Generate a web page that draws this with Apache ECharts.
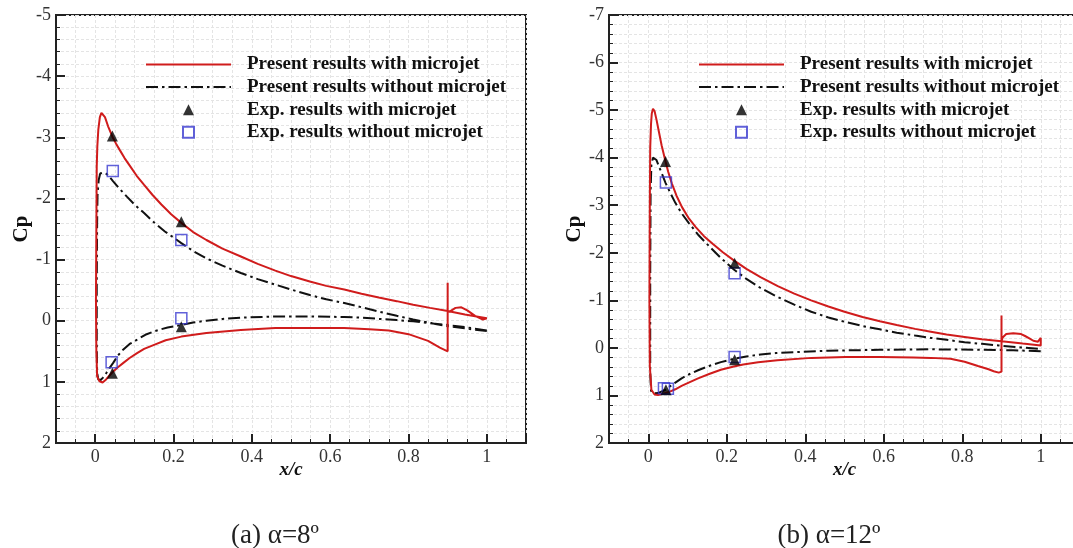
<!DOCTYPE html>
<html><head><meta charset="utf-8">
<script src="https://cdn.jsdelivr.net/npm/echarts@6/dist/echarts.min.js"></script>
<style>html,body{margin:0;padding:0;background:#fff}#c{width:1073px;height:548px}</style>
</head><body><div id="c"></div>
<script>
// ---- data (x/c, Cp) ----
const NAMES = ['Present results with microjet','Present results without microjet','Exp. results with microjet','Exp. results without microjet'];
const captions = ['(a) \u03b1=8\u00ba', '(b) \u03b1=12\u00ba'];
const xTicks = [0, 0.2, 0.4, 0.6, 0.8, 1];

// alpha = 8 deg
const cfdJet8 = [[0.900,-0.62],[0.900,0.50],[0.895,0.51],[0.88,0.44],[0.85,0.33],[0.8,0.22],[0.75,0.16],[0.7,0.14],[0.636,0.12],[0.548,0.12],[0.46,0.12],[0.372,0.15],[0.284,0.20],[0.22,0.26],[0.18,0.32],[0.152,0.39],[0.125,0.46],[0.107,0.53],[0.088,0.61],[0.072,0.69],[0.058,0.76],[0.046,0.83],[0.036,0.90],[0.028,0.96],[0.019,1.01],[0.011,0.99],[0.005,0.91],[0.003,0.47],[0.002,-0.34],[0.003,-1.43],[0.004,-2.52],[0.0055,-2.85],[0.008,-3.12],[0.012,-3.33],[0.016,-3.40],[0.020,-3.39],[0.025,-3.33],[0.033,-3.18],[0.044,-3.01],[0.053,-2.90],[0.063,-2.79],[0.075,-2.66],[0.09,-2.52],[0.106,-2.37],[0.125,-2.22],[0.146,-2.06],[0.169,-1.90],[0.194,-1.74],[0.22,-1.60],[0.25,-1.45],[0.284,-1.32],[0.325,-1.18],[0.372,-1.05],[0.415,-0.93],[0.46,-0.82],[0.5,-0.73],[0.548,-0.64],[0.59,-0.57],[0.636,-0.51],[0.68,-0.44],[0.724,-0.38],[0.77,-0.32],[0.812,-0.26],[0.855,-0.21],[0.9,-0.16],[0.944,-0.10],[1.0,-0.04],[0.99,-0.02],[0.97,-0.08],[0.95,-0.17],[0.935,-0.22],[0.92,-0.21],[0.905,-0.15],[0.9,-0.14]];
const cfdNoJet8 = [[1.0,0.16],[0.95,0.11],[0.9,0.07],[0.855,0.04],[0.812,0.01],[0.77,-0.01],[0.724,-0.03],[0.68,-0.05],[0.636,-0.06],[0.548,-0.07],[0.46,-0.07],[0.372,-0.05],[0.325,-0.03],[0.284,0.0],[0.25,0.03],[0.22,0.07],[0.185,0.11],[0.152,0.17],[0.128,0.23],[0.107,0.31],[0.088,0.38],[0.072,0.47],[0.058,0.57],[0.046,0.69],[0.036,0.78],[0.028,0.86],[0.02,0.93],[0.014,0.97],[0.008,0.96],[0.005,0.85],[0.004,0.4],[0.004,-0.6],[0.005,-1.6],[0.006,-2.05],[0.009,-2.3],[0.013,-2.41],[0.018,-2.44],[0.025,-2.42],[0.033,-2.38],[0.046,-2.28],[0.062,-2.16],[0.081,-2.03],[0.102,-1.89],[0.125,-1.76],[0.15,-1.61],[0.178,-1.46],[0.22,-1.27],[0.25,-1.14],[0.284,-1.02],[0.325,-0.90],[0.372,-0.78],[0.415,-0.68],[0.46,-0.59],[0.5,-0.51],[0.548,-0.42],[0.59,-0.35],[0.636,-0.29],[0.68,-0.22],[0.724,-0.15],[0.77,-0.08],[0.812,-0.02],[0.865,0.05],[0.9,0.09],[0.95,0.13],[1.0,0.17]];
const expJet8 = [[0.044,-3.02],[0.22,-1.62],[0.22,0.10],[0.044,0.86]];
const expNoJet8 = [[0.045,-2.45],[0.22,-1.32],[0.22,-0.04],[0.042,0.68]];

// alpha = 12 deg
const cfdJet12 = [[0.9,-0.68],[0.9,0.50],[0.893,0.52],[0.88,0.49],[0.867,0.45],[0.84,0.38],[0.806,0.29],[0.77,0.23],[0.72,0.21],[0.676,0.20],[0.589,0.19],[0.503,0.19],[0.416,0.21],[0.329,0.26],[0.28,0.30],[0.242,0.35],[0.218,0.39],[0.185,0.46],[0.155,0.55],[0.127,0.64],[0.103,0.73],[0.085,0.80],[0.069,0.87],[0.055,0.92],[0.043,0.95],[0.025,0.99],[0.016,0.98],[0.008,0.88],[0.004,0.38],[0.003,-1.0],[0.004,-3.0],[0.005,-4.2],[0.007,-4.7],[0.009,-4.93],[0.012,-5.03],[0.016,-4.98],[0.021,-4.80],[0.027,-4.55],[0.034,-4.26],[0.044,-3.92],[0.051,-3.70],[0.06,-3.46],[0.072,-3.20],[0.086,-2.96],[0.102,-2.74],[0.121,-2.54],[0.142,-2.35],[0.164,-2.19],[0.19,-2.01],[0.218,-1.84],[0.25,-1.66],[0.286,-1.49],[0.33,-1.30],[0.372,-1.14],[0.415,-1.00],[0.459,-0.87],[0.5,-0.76],[0.546,-0.65],[0.59,-0.56],[0.633,-0.48],[0.68,-0.40],[0.72,-0.34],[0.76,-0.28],[0.806,-0.23],[0.85,-0.18],[0.9,-0.14],[0.954,-0.09],[1.0,-0.05],[1.0,-0.21],[0.993,-0.13],[0.981,-0.15],[0.971,-0.20],[0.96,-0.25],[0.95,-0.29],[0.93,-0.31],[0.912,-0.29],[0.903,-0.22],[0.9,-0.14]];
const cfdNoJet12 = [[1.0,0.07],[0.93,0.05],[0.85,0.04],[0.72,0.03],[0.589,0.04],[0.459,0.06],[0.372,0.09],[0.325,0.11],[0.286,0.14],[0.25,0.18],[0.218,0.23],[0.185,0.30],[0.155,0.38],[0.127,0.47],[0.103,0.56],[0.085,0.64],[0.069,0.73],[0.055,0.81],[0.044,0.88],[0.025,0.95],[0.012,0.96],[0.007,0.9],[0.005,0.5],[0.005,-1.5],[0.006,-3.3],[0.008,-3.85],[0.012,-4.0],[0.017,-4.03],[0.021,-3.95],[0.027,-3.82],[0.034,-3.68],[0.044,-3.47],[0.055,-3.28],[0.069,-3.05],[0.085,-2.83],[0.103,-2.63],[0.127,-2.38],[0.155,-2.14],[0.185,-1.89],[0.218,-1.65],[0.25,-1.45],[0.286,-1.26],[0.33,-1.07],[0.372,-0.91],[0.415,-0.76],[0.459,-0.64],[0.5,-0.55],[0.546,-0.46],[0.59,-0.39],[0.633,-0.32],[0.68,-0.26],[0.72,-0.21],[0.76,-0.17],[0.806,-0.12],[0.85,-0.085],[0.893,-0.05],[0.95,-0.01],[1.0,0.02]];
const expJet12 = [[0.044,-3.92],[0.22,-1.78],[0.22,0.25],[0.045,0.88]];
const expNoJet12 = [[0.045,-3.48],[0.22,-1.57],[0.22,0.19],[0.04,0.85],[0.05,0.86]];

// ---- chart ----
const SERIF = 'Liberation Serif, Times New Roman, serif';
const RED = '#d01c1c';
const BLUE = '#3a3ad0';
const DASHDOT = [12, 4, 2.5, 4];
const gridLine = {show:true, lineStyle:{color:'#e4e4e4', width:1, type:[3,2]}};

function xAxis(i){
  return {type:'value', gridIndex:i, min:-0.1, max:1.1, splitNumber:6,
    name:'x/c', nameLocation:'middle', nameGap:18, nameMoveOverlap:false,
    nameTextStyle:{fontFamily:SERIF, fontSize:19, fontWeight:'bold', fontStyle:'italic', color:'#111'},
    axisLine:{show:true, onZero:false, lineStyle:{color:'#222', width:2}},
    axisTick:{show:true, inside:true, length:9, lineStyle:{color:'#222', width:2}},
    minorTick:{show:true, splitNumber:4, length:4, lineStyle:{color:'#222', width:1}},
    axisLabel:{showMinLabel:false, showMaxLabel:false, margin:5, fontFamily:SERIF, fontSize:18, color:'#333',
      formatter: v => xTicks.some(t => Math.abs(t - v) < 1e-6) ? String(+v.toFixed(2)) : ''},
    splitLine:gridLine, minorSplitLine:gridLine};
}
function yAxis(i, min){
  return {type:'value', gridIndex:i, min:min, max:2, interval:1, inverse:true,
    name:'Cp', nameLocation:'middle', nameGap:24,
    nameTextStyle:{fontFamily:SERIF, fontSize:21, fontWeight:'bold', color:'#111'},
    axisLine:{show:true, onZero:false, lineStyle:{color:'#222', width:2}},
    axisTick:{show:true, inside:true, length:9, lineStyle:{color:'#222', width:2}},
    minorTick:{show:true, splitNumber:5, length:4, lineStyle:{color:'#222', width:1}},
    axisLabel:{margin:5, fontFamily:SERIF, fontSize:18, color:'#333'},
    splitLine:gridLine, minorSplitLine:gridLine};
}
function seriesFor(i, jet, noJet, eJet, eNoJet){
  return [
    {name:NAMES[1], type:'line', xAxisIndex:i, yAxisIndex:i, data:noJet, symbol:'none', showSymbol:false,
      lineStyle:{color:'#111', width:2, type:DASHDOT}, itemStyle:{color:'#111'}, z:2, silent:true},
    {name:NAMES[0], type:'line', xAxisIndex:i, yAxisIndex:i, data:jet, symbol:'none', showSymbol:false,
      lineStyle:{color:RED, width:2}, itemStyle:{color:RED}, z:3, silent:true},
    {name:NAMES[3], type:'scatter', xAxisIndex:i, yAxisIndex:i, data:eNoJet, symbol:'rect', symbolSize:11,
      itemStyle:{color:'rgba(255,255,255,0)', borderColor:BLUE, borderWidth:1.5}, z:4, silent:true},
    {name:NAMES[2], type:'scatter', xAxisIndex:i, yAxisIndex:i, data:eJet, symbol:'triangle', symbolSize:11,
      itemStyle:{color:'#000'}, z:5, silent:true}
  ];
}
const hideSym = {color:'rgba(0,0,0,0)', borderColor:'rgba(0,0,0,0)', borderWidth:0};
function legend(left){
  return {left:left, top:55, orient:'vertical', padding:0, itemWidth:85, itemHeight:11, itemGap:3.6,
    selectedMode:false, symbolKeepAspect:true,
    data:[
      {name:NAMES[0], itemStyle:hideSym},
      {name:NAMES[1], itemStyle:hideSym},
      {name:NAMES[2], icon:'path://M5,0L10,10L0,10Z'},
      {name:NAMES[3], icon:'path://M0,0L10,0L10,10L0,10Z'}
    ],
    textStyle:{fontFamily:SERIF, fontWeight:'bold', fontSize:19, lineHeight:16, color:'#111', padding:[0,0,0,11]}};
}

const chart = echarts.init(document.getElementById('c'), null, {renderer:'canvas'});
chart.setOption({
  animation:false,
  backgroundColor:'#fff',
  grid:[
    {left:56, top:15, width:470, height:428, show:true, borderColor:'#222', borderWidth:2, containLabel:false, outerBoundsMode:'none'},
    {left:609, top:15, width:471, height:428, show:true, borderColor:'#222', borderWidth:2, containLabel:false, outerBoundsMode:'none'}
  ],
  xAxis:[xAxis(0), xAxis(1)],
  yAxis:[yAxis(0,-5), yAxis(1,-7)],
  legend:[legend(145), legend(698)],
  series:[].concat(seriesFor(0, cfdJet8, cfdNoJet8, expJet8, expNoJet8),
                   seriesFor(1, cfdJet12, cfdNoJet12, expJet12, expNoJet12)),
  graphic:[
    {type:'text', x:275, y:536, style:{text:captions[0], align:'center', verticalAlign:'middle', font:'27px '+SERIF, fill:'#222'}},
    {type:'text', x:829, y:536, style:{text:captions[1], align:'center', verticalAlign:'middle', font:'27px '+SERIF, fill:'#222'}}
  ]
});
</script></body></html>
